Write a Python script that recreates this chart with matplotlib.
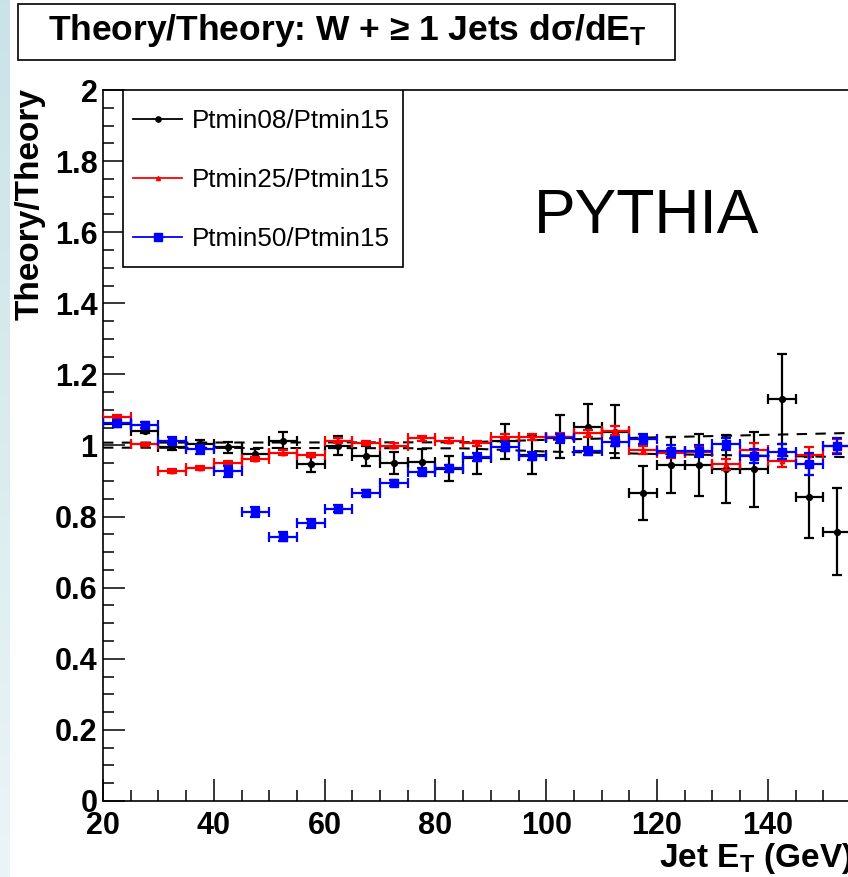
import numpy as np
import matplotlib
matplotlib.use("Agg")
import matplotlib.pyplot as plt
from matplotlib.lines import Line2D
from matplotlib.patches import Rectangle
from matplotlib.ticker import MultipleLocator, FuncFormatter

plt.rcParams['font.family'] = ['Liberation Sans', 'DejaVu Sans']
plt.rcParams['mathtext.fontset'] = 'custom'
plt.rcParams['mathtext.rm'] = 'Liberation Sans:bold'
plt.rcParams['mathtext.it'] = 'Liberation Sans:bold'
plt.rcParams['mathtext.bf'] = 'Liberation Sans:bold'

# jet ET bins, 5 GeV wide
et = np.arange(22.5, 155, 5.0)
et_err = np.full(len(et), 2.5)

r08 = [1.06, 1.042, 0.995, 1.005, 0.995, 0.977, 1.014, 0.947, 1.0, 0.97, 0.95, 0.954, 0.935, 0.965,
       1.012, 0.973, 1.025, 1.053, 1.039, 0.866, 0.945, 0.945, 0.933, 0.933, 1.13, 0.854, 0.758]
e08 = [0.007, 0.008, 0.008, 0.01, 0.015, 0.012, 0.023, 0.022, 0.028, 0.028, 0.031, 0.035, 0.035, 0.045,
       0.049, 0.054, 0.06, 0.063, 0.075, 0.075, 0.079, 0.088, 0.096, 0.106, 0.126, 0.113, 0.122]

r25 = [1.08, 1.003, 0.928, 0.937, 0.951, 0.962, 0.98, 0.973, 1.014, 1.008, 1.0, 1.02, 1.014, 1.007,
       1.025, 1.023, 1.025, 1.034, 1.042, 0.987, 0.978, 0.983, 0.947, 0.987, 0.955, 0.973, 0.998]
e25 = [0.006, 0.005, 0.005, 0.005, 0.006, 0.006, 0.006, 0.006, 0.006, 0.006, 0.006, 0.006, 0.007, 0.007,
       0.008, 0.008, 0.009, 0.01, 0.012, 0.012, 0.012, 0.013, 0.016, 0.02, 0.016, 0.022, 0.02]

r50 = [1.064, 1.058, 1.014, 0.989, 0.927, 0.813, 0.744, 0.781, 0.822, 0.867, 0.894, 0.926, 0.936, 0.968,
       0.997, 0.97, 1.02, 0.985, 1.011, 1.017, 0.985, 0.985, 1.004, 0.97, 0.983, 0.948, 0.998]
e50 = [0.008, 0.008, 0.01, 0.012, 0.015, 0.015, 0.014, 0.012, 0.01, 0.008, 0.008, 0.01, 0.01, 0.012,
       0.012, 0.012, 0.012, 0.012, 0.013, 0.014, 0.016, 0.016, 0.018, 0.02, 0.02, 0.03, 0.022]

# dashed band around 1
band_x = [20, 85, 100, 120, 160]
band_hi = [1.008, 1.009, 1.016, 1.023, 1.037]
band_lo = [0.994, 0.992, 0.983, 0.976, 0.966]

W, H = 848, 877
fig = plt.figure(figsize=(W / 100, H / 100), dpi=100)

# light blue strip on the left edge
strip = fig.add_axes([0, 0, 10 / W, 1])
grad = np.linspace(0, 1, 256).reshape(-1, 1)
top_c = np.array([0.79, 0.89, 0.91])
bot_c = np.array([0.92, 0.96, 0.97])
img = top_c[None, None, :] * (1 - grad[:, :, None]) + bot_c[None, None, :] * grad[:, :, None]
strip.imshow(img, aspect='auto')
strip.axis('off')

ax_w = 140 * 5.54
ax = fig.add_axes([103 / W, 76 / H, ax_w / W, 711 / H])
ax.set_xlim(20, 160)
ax.set_ylim(0, 2)

ax.plot(band_x, band_hi, ls=(0, (5, 4)), color='black', lw=1.5, zorder=1)
ax.plot(band_x, band_lo, ls=(0, (5, 4)), color='black', lw=1.5, zorder=1)

kw = dict(elinewidth=1.6, capsize=3.3, capthick=1.6)
ax.errorbar(et, r08, xerr=et_err, yerr=e08, fmt='o', color='black', ms=4.2, zorder=2, **kw)
ax.errorbar(et, r25, xerr=et_err, yerr=e25, fmt='^', color='#ff0000', ms=3.2, zorder=3, **kw)
ax.errorbar(et, r50, xerr=et_err, yerr=e50, fmt='s', color='#0000ff', ms=5.8, zorder=4, **kw)

ax.xaxis.set_major_locator(MultipleLocator(20))
ax.xaxis.set_minor_locator(MultipleLocator(5))
ax.yaxis.set_major_locator(MultipleLocator(0.2))
ax.yaxis.set_minor_locator(MultipleLocator(0.05))
ax.yaxis.set_major_formatter(FuncFormatter(lambda v, p: f"{v:g}"))
ax.xaxis.set_major_formatter(FuncFormatter(lambda v, p: f"{v:g}" if v < 150 else ""))
ax.tick_params(which='both', direction='in', width=1.1, labelsize=22)
ax.tick_params(which='major', length=16)
ax.tick_params(which='minor', length=8)
ax.tick_params(axis='y', pad=4)
ax.tick_params(axis='x', pad=7)
for lab in ax.get_xticklabels() + ax.get_yticklabels():
    lab.set_fontweight('bold')
for sp in ax.spines.values():
    sp.set_linewidth(1.2)

# legend: frame drawn separately, ROOT style
ax.add_patch(Rectangle((20 / ax_w, (801 - 267) / 711), 280 / ax_w, 177 / 711,
                       transform=ax.transAxes, facecolor='white', edgecolor='black',
                       lw=1.2, zorder=5))
handles = [
    Line2D([], [], color='black', marker='o', ms=3.8, lw=1.3),
    Line2D([], [], color='#ff0000', marker='^', ms=3.0, lw=1.3),
    Line2D([], [], color='#0000ff', marker='s', ms=5.2, lw=1.3),
]
labels = ['Ptmin08/Ptmin15', 'Ptmin25/Ptmin15', 'Ptmin50/Ptmin15']
leg = ax.legend(handles, labels, loc='upper left',
                bbox_to_anchor=(30 / ax_w, (801 - 109) / 711),
                borderaxespad=0, fontsize=18.7, handlelength=1.9, handletextpad=0.35,
                labelspacing=1.35, borderpad=0, frameon=False)
leg.set_zorder(6)

fig.text(534 / W, 1 - 233 / H, 'PYTHIA', fontsize=45, ha='left', va='baseline')

# title box
fig.patches.append(Rectangle((18 / W, 1 - 60 / H), 657 / W, 56 / H, transform=fig.transFigure,
                             fill=True, facecolor='white', edgecolor='black', lw=1.2))
fig.text(48 / W, 1 - 40 / H, r'Theory/Theory: W + ≥ 1 Jets dσ/dE$_{\mathrm{T}}$',
         fontsize=25.5, fontweight='bold', ha='left', va='baseline')

fig.text(30 / W, 1 - 88 / H, 'Theory/Theory', rotation=90, fontsize=24,
         fontweight='bold', ha='center', va='top')
fig.text(853 / W, 1 - 866.7 / H, r'Jet E$_{\mathrm{T}}$ (GeV)', fontsize=24,
         fontweight='bold', ha='right', va='baseline')

fig.savefig('out.png', dpi=100)
